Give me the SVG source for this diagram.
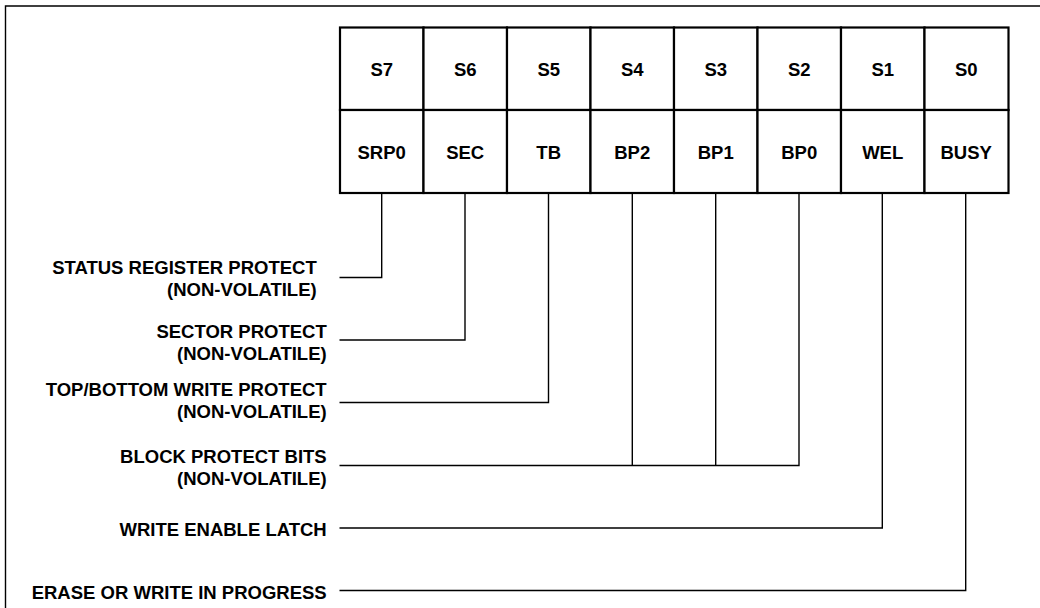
<svg xmlns="http://www.w3.org/2000/svg" width="1040" height="608" viewBox="0 0 1040 608">
<style>
  .frame{fill:none;stroke:#000;stroke-width:1.4}
  .cell{fill:#fff;stroke:#000;stroke-width:2.2}
  .conn{fill:none;stroke:#000;stroke-width:1.4}
  text{font-family:"Liberation Sans",Arial,sans-serif;font-weight:bold;font-size:18.5px;fill:#000}
  .c{text-anchor:middle}
  .r{text-anchor:end}
</style>
<rect width="1040" height="608" fill="#fff"/>
<path class="frame" d="M5.5,608 V6 H1040"/>
<g id="register">
  <g id="bit7"><rect class="cell" x="340" y="27.5" width="83.5" height="82.5"/><rect class="cell" x="340" y="110" width="83.5" height="83"/><text class="c" x="381.7" y="75.5">S7</text><text class="c" x="381.7" y="158.5">SRP0</text></g>
  <g id="bit6"><rect class="cell" x="423.5" y="27.5" width="83.5" height="82.5"/><rect class="cell" x="423.5" y="110" width="83.5" height="83"/><text class="c" x="465.2" y="75.5">S6</text><text class="c" x="465.2" y="158.5">SEC</text></g>
  <g id="bit5"><rect class="cell" x="507" y="27.5" width="83.5" height="82.5"/><rect class="cell" x="507" y="110" width="83.5" height="83"/><text class="c" x="548.7" y="75.5">S5</text><text class="c" x="548.7" y="158.5">TB</text></g>
  <g id="bit4"><rect class="cell" x="590.5" y="27.5" width="83.5" height="82.5"/><rect class="cell" x="590.5" y="110" width="83.5" height="83"/><text class="c" x="632.2" y="75.5">S4</text><text class="c" x="632.2" y="158.5">BP2</text></g>
  <g id="bit3"><rect class="cell" x="674" y="27.5" width="83.5" height="82.5"/><rect class="cell" x="674" y="110" width="83.5" height="83"/><text class="c" x="715.7" y="75.5">S3</text><text class="c" x="715.7" y="158.5">BP1</text></g>
  <g id="bit2"><rect class="cell" x="757.5" y="27.5" width="83.5" height="82.5"/><rect class="cell" x="757.5" y="110" width="83.5" height="83"/><text class="c" x="799.2" y="75.5">S2</text><text class="c" x="799.2" y="158.5">BP0</text></g>
  <g id="bit1"><rect class="cell" x="841" y="27.5" width="83.5" height="82.5"/><rect class="cell" x="841" y="110" width="83.5" height="83"/><text class="c" x="882.7" y="75.5">S1</text><text class="c" x="882.7" y="158.5">WEL</text></g>
  <g id="bit0"><rect class="cell" x="924.5" y="27.5" width="84" height="82.5"/><rect class="cell" x="924.5" y="110" width="84" height="83"/><text class="c" x="966.2" y="75.5">S0</text><text class="c" x="966.2" y="158.5">BUSY</text></g>
</g>
<g id="connectors">
  <path class="conn" d="M381.7,194 V277.5 H339.5"/>
  <path class="conn" d="M465,194 V340 H339.5"/>
  <path class="conn" d="M548.5,194 V402.5 H339.5"/>
  <path class="conn" d="M632.3,194 V465.5 M715.7,194 V465.5 M799,194 V465.5 H339.5"/>
  <path class="conn" d="M882.3,194 V528 H339.5"/>
  <path class="conn" d="M965.7,194 V590.5 H339.5"/>
</g>
<g id="label-srp0"><text class="r" x="316.7" y="274">STATUS REGISTER PROTECT</text><text class="r" x="316.7" y="296">(NON-VOLATILE)</text></g>
<g id="label-sec"><text class="r" x="326.7" y="337.5">SECTOR PROTECT</text><text class="r" x="326.7" y="359.5">(NON-VOLATILE)</text></g>
<g id="label-tb"><text class="r" x="326.7" y="395.5">TOP/BOTTOM WRITE PROTECT</text><text class="r" x="326.7" y="417.5">(NON-VOLATILE)</text></g>
<g id="label-bp"><text class="r" x="326.7" y="463">BLOCK PROTECT BITS</text><text class="r" x="326.7" y="485">(NON-VOLATILE)</text></g>
<g id="label-wel"><text class="r" x="326.7" y="535.5">WRITE ENABLE LATCH</text></g>
<g id="label-busy"><text class="r" x="326.7" y="599">ERASE OR WRITE IN PROGRESS</text></g>
</svg>
